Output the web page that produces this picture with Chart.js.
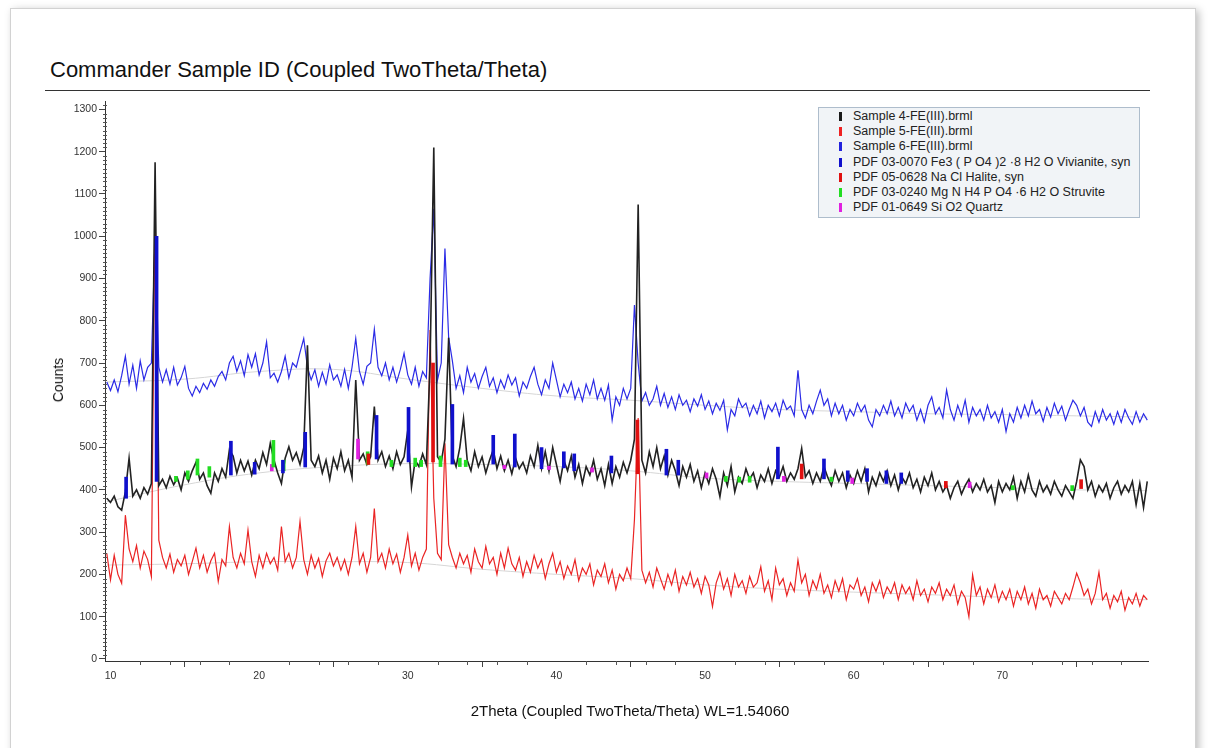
<!DOCTYPE html>
<html>
<head>
<meta charset="utf-8">
<title>Commander Sample ID</title>
<script src="https://cdn.jsdelivr.net/npm/chart.js@4.4.1/dist/chart.umd.min.js"></script>
<style>
  html, body { margin: 0; padding: 0; background: #fff; }
  body { width: 1208px; height: 748px; position: relative; overflow: hidden; font-family: "Liberation Sans", Arial, sans-serif; color: #111; }
  .page { position: absolute; left: 10px; top: 8px; width: 1184px; height: 780px; border: 1px solid #d2d2d2; box-shadow: 3px 2px 8px rgba(0,0,0,0.25); background: #fff; }
  #title { position: absolute; left: 50px; top: 57px; font-size: 22px; white-space: nowrap; }
  #rule { position: absolute; left: 45px; top: 90px; width: 1105px; border-top: 1px solid #333; }
  #chartBox { position: absolute; left: 0; top: 0; width: 1208px; height: 748px; }
  #yTitle { position: absolute; left: 58px; top: 380px; transform: translate(-50%, -50%) rotate(-90deg); font-size: 14px; white-space: nowrap; }
  #xTitle { position: absolute; left: 630px; top: 710px; transform: translate(-50%, -50%); font-size: 15px; white-space: nowrap; }
  #legend { position: absolute; left: 818px; top: 107px; width: 322px; height: 111px; box-sizing: border-box; background: #f1f4f7; border: 1px solid #aebdcc; padding: 1px 0 0 20px; font-size: 12.5px; color: #222; }
  .item { height: 15.2px; line-height: 15.2px; white-space: nowrap; }
  .swatch { display: inline-block; width: 3px; height: 9px; margin-right: 11px; vertical-align: -1px; }
</style>
</head>
<body>
<div class="page"></div>
<div id="title">Commander Sample ID (Coupled TwoTheta/Theta)</div>
<div id="rule"></div>
<div id="chartBox"><canvas id="chart"></canvas></div>
<div id="yTitle">Counts</div>
<div id="xTitle">2Theta (Coupled TwoTheta/Theta) WL=1.54060</div>
<div id="legend"></div>
<script>
// scan grid: 2Theta from 9.75 deg in 0.25 deg steps
const scanStart = 9.75;
const scanStep = 0.25;

// Sample 4 (black), one row per degree
const sample4 = [380,
  370, 385, 360, 352,   395, 475, 385, 400,   380, 405, 390, 415,   1175, 410, 425, 405,
  432, 412, 428, 400,   440, 420, 445, 465,   425, 440, 410, 392,   440, 420, 450, 430,
  495, 480, 440, 470,   445, 468, 435, 470,   450, 488, 460, 510,   470, 440, 415, 475,
  502, 470, 488, 460,   500, 742, 470, 455,   480, 440, 470, 425,   475, 450, 490, 445,
  470, 430, 660, 470,   485, 460, 478, 597,   470, 490, 455, 480,   450, 490, 460, 478,
  541, 407, 470, 455,   485, 460, 700, 1210,  478, 465, 520, 760,   480, 455, 500, 569,
  470, 445, 490, 455,   478, 440, 470, 495,   450, 480, 445, 470,   438, 475, 450, 465,
  440, 480, 455, 505,   450, 490, 445, 500,   460, 420, 470, 445,   480, 430, 460, 415,
  455, 435, 470, 425,   450, 410, 460, 415,   455, 430, 465, 440,   470, 520, 1075, 470,
  440, 490, 455, 500,   450, 480, 435, 470,   445, 410, 455, 430,   460, 420, 445, 405,
  440, 415, 450, 425,   384, 440, 410, 455,   395, 430, 415, 450,   425, 440, 405, 435,
  420, 450, 415, 445,   430, 455, 420, 440,   425, 450, 498, 430,   445, 415, 440, 420,
  455, 430, 410, 445,   420, 440, 405, 435,   415, 445, 420, 450,   395, 430, 410, 440,
  420, 445, 410, 435,   400, 430, 415, 440,   405, 425, 395, 430,   410, 440, 400, 420,
  395, 410, 380, 405,   420, 390, 410, 425,   395, 415, 400, 425,   395, 410, 370, 420,
  395, 415, 400, 430,   380, 420, 395, 435,   400, 385, 420, 395,   410, 390, 420, 400,
  385, 410, 395, 380,   420, 471, 455, 400,   420, 385, 410, 395,   415, 380, 405, 420,
  390, 410, 395, 420,   365, 415, 358, 420];

// Sample 5 (red)
const sample5 = [250,
  187, 245, 200, 179,   340, 260, 230, 268,   215, 255, 235, 195,   1080, 281, 240, 215,
  248, 205, 235, 220,   245, 200, 230, 262,   215, 245, 205, 232,   250, 183, 235, 220,
  313, 240, 215, 250,   225, 305, 230, 195,   245, 215, 250, 225,   240, 210, 313, 230,
  250, 215, 240, 325,   235, 200, 245, 215,   238, 195, 232, 250,   220, 240, 210, 235,
  200, 240, 313, 225,   250, 205, 240, 356,   230, 250, 215, 260,   225, 248, 205, 240,
  293, 220, 250, 210,   240, 260, 778, 380,   250, 235, 510, 270,   240, 215, 250, 225,
  245, 205, 260, 230,   215, 266, 225, 240,   200, 250, 215, 262,   225, 210, 240, 195,
  230, 205, 245, 215,   235, 190, 225, 250,   205, 230, 190, 220,   200, 235, 185, 215,
  200, 225, 175, 210,   195, 225, 180, 210,   165, 200, 185, 215,   190, 330, 570, 210,
  180, 205, 170, 215,   190, 165, 200, 175,   210, 160, 195, 175,   205, 170, 190, 155,
  195, 175, 124, 180,   205, 165, 190, 150,   200, 170, 185, 155,   195, 170, 180, 218,
  160, 185, 140, 215,   175, 190, 150, 180,   160, 234, 180, 200,   150, 185, 165, 200,
  155, 175, 145, 185,   160, 190, 140, 175,   165, 190, 150, 170,   135, 180, 160, 185,
  145, 170, 155, 180,   140, 175, 155, 170,   140, 185, 150, 165,   135, 170, 155, 180,
  140, 165, 150, 175,   130, 160, 145, 100,   199, 150, 170, 130,   165, 145, 175, 135,
  160, 140, 165, 125,   160, 140, 170, 130,   155, 120, 165, 140,   150, 125, 160, 145,
  130, 155, 140, 170,   203, 180, 150, 165,   130, 155, 205, 140,   155, 120, 150, 135,
  160, 115, 145, 130,   155, 125, 150, 140];

// Sample 6 (blue)
const sample6 = [655,
  635, 660, 632, 670,   716, 650, 695, 640,   705, 660, 690, 700,   1000, 690, 655, 684,
  650, 690, 648, 665,   692, 640, 622, 645,   630, 652, 638, 660,   645, 668, 680, 660,
  700, 716, 680, 705,   670, 720, 690, 722,   672, 700, 750, 665,   676, 655, 680, 716,
  665, 700, 690, 725,   758, 690, 660, 684,   645, 678, 650, 696,   660, 672, 645, 685,
  640, 690, 758, 680,   650, 692, 700, 780,   690, 670, 700, 660,   690, 655, 685, 723,
  672, 650, 690, 645,   680, 665, 900, 1065,  660, 700, 971, 760,   705, 640, 670, 630,
  690, 655, 675, 640,   668, 690, 645, 665,   630, 660, 640, 672,   648, 665, 622, 655,
  640, 668, 690, 650,   625, 660, 640, 700,   660, 620, 650, 630,   655, 615, 640, 610,
  650, 625, 660, 615,   640, 612, 648, 565,   620, 600, 640, 615,   640, 837, 700, 610,
  630, 600, 615, 645,   600, 628, 595, 620,   590, 625, 600, 612,   585, 615, 598, 625,
  590, 610, 580, 605,   588, 612, 542, 590,   575, 615, 595, 605,   575, 600, 580, 610,
  570, 600, 585, 605,   575, 612, 590, 598,   575, 683, 590, 570,   600, 580, 610, 636,
  600, 615, 575, 605,   580, 600, 565, 590,   575, 605, 585, 600,   565, 549, 590, 575,
  600, 580, 610, 575,   595, 570, 605, 585,   600, 565, 590, 560,   600, 620, 580, 595,
  570, 636, 590, 565,   600, 575, 612, 560,   595, 575, 590, 565,   600, 570, 585, 560,
  590, 538, 580, 560,   595, 570, 600, 575,   610, 580, 590, 562,   595, 572, 605, 580,
  598, 565, 590, 612,   600, 575, 595, 560,   550, 585, 560, 590,   565, 580, 555, 585,
  560, 590, 570, 555,   585, 560, 580, 565];

// fitted background under each scan
const bgAngles  = [9.75, 15, 20, 25, 30, 35, 40, 45, 50, 55, 60, 65, 70, 75, 79.75];
const bgSample4 = [372, 412, 440, 455, 462, 460, 455, 445, 428, 420, 415, 410, 405, 400, 398];
const bgSample5 = [222, 225, 230, 230, 228, 212, 200, 190, 175, 165, 158, 152, 146, 142, 140];
const bgSample6 = [655, 662, 680, 685, 662, 640, 622, 612, 600, 590, 585, 580, 578, 575, 572];

// reference card lines: [2Theta, from, to]
const vivianite = [[11.05, 380, 430], [13.1, 420, 1000], [18.1, 435, 515], [19.7, 437, 465],
  [21.6, 440, 470], [23.1, 454, 536], [27.9, 473, 576], [30.05, 466, 595], [33.0, 461, 602],
  [35.75, 461, 529], [37.2, 454, 532], [39.0, 450, 500], [40.5, 452, 490], [41.2, 445, 485],
  [43.7, 440, 480], [47.4, 435, 496], [48.2, 435, 470], [54.9, 426, 501], [58.0, 426, 473],
  [59.6, 420, 445], [60.9, 420, 450], [62.2, 415, 445], [63.2, 415, 440]];
const halite = [[27.35, 460, 485], [31.7, 466, 700], [45.45, 438, 565], [56.5, 426, 461],
  [66.2, 405, 420], [75.3, 403, 424]];
const struvite = [[14.4, 420, 432], [15.2, 425, 445], [15.85, 435, 473], [16.65, 430, 455],
  [20.96, 454, 517], [21.65, 445, 470], [27.3, 460, 490], [28.9, 455, 470], [30.5, 455, 475],
  [30.9, 455, 470], [32.2, 455, 480], [33.5, 455, 475], [33.9, 455, 470], [51.4, 420, 432],
  [52.3, 418, 430], [53.0, 418, 432], [58.5, 420, 430], [70.7, 400, 410], [74.7, 398, 410]];
const quartz = [[20.85, 445, 460], [26.65, 473, 520], [36.5, 450, 458], [39.5, 448, 456],
  [42.4, 442, 452], [50.1, 428, 440], [55.3, 420, 432], [59.9, 415, 428], [67.8, 405, 418]];

const legendNames = ['Sample 4-FE(III).brml', 'Sample 5-FE(III).brml', 'Sample 6-FE(III).brml',
  'PDF 03-0070 Fe3 ( P O4 )2 \u00b78 H2 O Vivianite, syn', 'PDF 05-0628 Na Cl Halite, syn',
  'PDF 03-0240 Mg N H4 P O4 \u00b76 H2 O Struvite', 'PDF 01-0649 Si O2 Quartz'];
const legendColors = ['#1a1a1a', '#ee2222', '#2222dd', '#1010cc', '#e01010', '#22dd22', '#e020e0'];

const xTickLabels = [10, 20, 30, 40, 50, 60, 70];
const yTickLabels = [0, 100, 200, 300, 400, 500, 600, 700, 800, 900, 1000, 1100, 1200, 1300];

const scanPoints = vals => vals.map((v, i) => ({ x: scanStart + i * scanStep, y: v }));
const bgPoints = vals => vals.map((v, i) => ({ x: bgAngles[i], y: v }));
const stickPoints = list => list.map(s => ({ x: s[0], y: [s[1], s[2]] }));

const scanLine = (label, vals, color, width, order) => ({
  type: 'line', label, data: scanPoints(vals), borderColor: color, borderWidth: width,
  pointRadius: 0, tension: 0, order
});
const bgLine = vals => ({
  type: 'line', data: bgPoints(vals), borderColor: '#d6d6d6', borderWidth: 1,
  pointRadius: 0, tension: 0.4, order: 20
});
const sticks = (list, color) => ({
  type: 'bar', data: stickPoints(list), backgroundColor: color, barThickness: 3,
  grouped: false, order: 1
});

// small ticks along both axes
const minorTicks = {
  id: 'minorTicks',
  afterDraw(chart) {
    const { ctx, scales: { x, y } } = chart;
    ctx.save();
    ctx.strokeStyle = '#555';
    ctx.lineWidth = 1;
    ctx.beginPath();
    for (let v = 0; v <= 1310; v += 10) {
      if (v % 100 === 0) continue;
      const py = Math.round(y.getPixelForValue(v)) + 0.5;
      ctx.moveTo(x.left - 2, py);
      ctx.lineTo(x.left + 2, py);
    }
    for (let v = 12; v <= 79; v += 2) {
      if (v % 10 === 0) continue;
      const px = Math.round(x.getPixelForValue(v)) + 0.5;
      ctx.moveTo(px, y.bottom);
      ctx.lineTo(px, y.bottom + 4);
    }
    ctx.stroke();
    ctx.restore();
  }
};

new Chart(document.getElementById('chart'), {
  type: 'line',
  data: {
    datasets: [
      bgLine(bgSample4), bgLine(bgSample5), bgLine(bgSample6),
      scanLine(legendNames[2], sample6, '#2b2be6', 1.2, 6),
      scanLine(legendNames[1], sample5, '#ea2424', 1.2, 5),
      scanLine(legendNames[0], sample4, '#222222', 1.6, 4),
      sticks(vivianite, legendColors[3]),
      sticks(halite, legendColors[4]),
      sticks(struvite, legendColors[5]),
      sticks(quartz, legendColors[6])
    ]
  },
  options: {
    responsive: true,
    maintainAspectRatio: false,
    animation: false,
    layout: { padding: { left: 0, top: 101, right: 60, bottom: 0 } },
    plugins: { legend: { display: false }, tooltip: { enabled: false } },
    scales: {
      x: {
        type: 'linear', min: 9.63, max: 79.8, offset: false,
        afterBuildTicks: s => { s.ticks = xTickLabels.map(v => ({ value: v })); },
        afterFit: s => { s.height = 87; },
        grid: { drawOnChartArea: false, tickLength: 6, color: '#444' },
        border: { display: true, color: '#333', width: 1 },
        ticks: { color: '#333', font: { family: 'Liberation Sans', size: 10.5 }, padding: 3, maxRotation: 0, callback: v => String(v) }
      },
      y: {
        type: 'linear', min: -5, max: 1320,
        afterBuildTicks: s => { s.ticks = yTickLabels.map(v => ({ value: v })); },
        afterFit: s => { s.width = 105; },
        grid: { drawOnChartArea: false, tickLength: 6, color: '#444' },
        border: { display: true, color: '#333', width: 1 },
        ticks: { color: '#333', font: { family: 'Liberation Sans', size: 10.5 }, padding: 2, callback: v => String(v) }
      }
    }
  },
  plugins: [minorTicks]
});

// legend box in the top right of the plot
const legendBox = document.getElementById('legend');
legendNames.forEach((name, i) => {
  const row = document.createElement('div');
  row.className = 'item';
  const sw = document.createElement('span');
  sw.className = 'swatch';
  sw.style.background = legendColors[i];
  row.appendChild(sw);
  row.appendChild(document.createTextNode(name));
  legendBox.appendChild(row);
});
</script>
</body>
</html>
